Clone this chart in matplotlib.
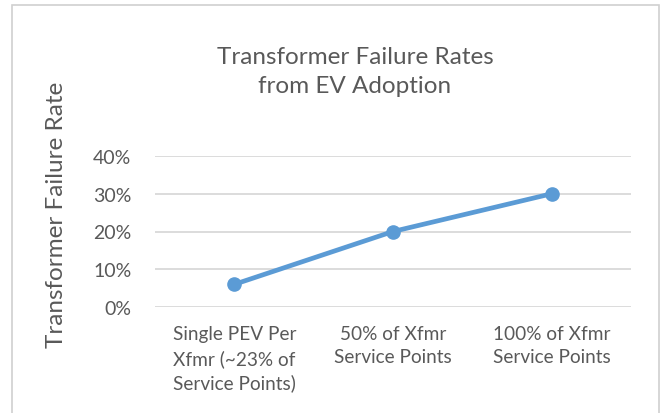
import matplotlib
matplotlib.use("Agg")
import matplotlib.pyplot as plt
from matplotlib.patches import Rectangle
from matplotlib.ticker import PercentFormatter

categories = ["Single PEV Per\nXfmr (~23% of\nService Points)",
              "50% of Xfmr\nService Points",
              "100% of Xfmr\nService Points"]
failure_rates = [0.06, 0.20, 0.30]
y_ticks = [0.0, 0.1, 0.2, 0.3, 0.4]

title_text = "Transformer Failure Rates\nfrom EV Adoption"
y_label = "Transformer Failure Rate"

plt.rcParams['font.family'] = ['Lato', 'DejaVu Sans']
text_color = "#595959"
line_color = "#5B9BD5"
grid_color = "#D9D9D9"

fig = plt.figure(figsize=(6.63, 4.14), dpi=100)
fig.patch.set_facecolor("white")

# chart border
fig.patches.append(Rectangle((12/663, -0.05), (659-12)/663, 1.05 - 6/414,
                             transform=fig.transFigure, fill=False,
                             edgecolor="#D0D0D0", linewidth=1.2))

ax = fig.add_axes([155/663, 1-308/414, (631-155)/663, (308-157)/414])
x = list(range(len(categories)))
ax.plot(x, failure_rates, color=line_color, linewidth=3.4, marker="o",
        markersize=9.5, solid_capstyle="round", zorder=3)

ax.set_xlim(-0.5, len(categories) - 0.5)
ax.set_ylim(0, 0.4)
ax.set_yticks(y_ticks)
ax.yaxis.set_major_formatter(PercentFormatter(1.0, decimals=0))
ax.set_xticks(x)
ax.set_xticklabels(categories, linespacing=1.45)
ax.grid(axis="y", color=grid_color, linewidth=1.3)
ax.set_axisbelow(True)
for s in ax.spines.values():
    s.set_visible(False)
ax.tick_params(axis="both", length=0, colors=text_color)
ax.tick_params(axis="y", pad=17, labelsize=14)
ax.tick_params(axis="x", pad=13, labelsize=13.7)

fig.text(355/663, 1-72/414, title_text, ha="center", va="center",
         fontsize=17.5, color=text_color, linespacing=1.45)
fig.text(57/663, 1-215/414, y_label, ha="center", va="center",
         rotation=90, fontsize=17.5, color=text_color)

fig.savefig("out.png", dpi=100, facecolor="white")
